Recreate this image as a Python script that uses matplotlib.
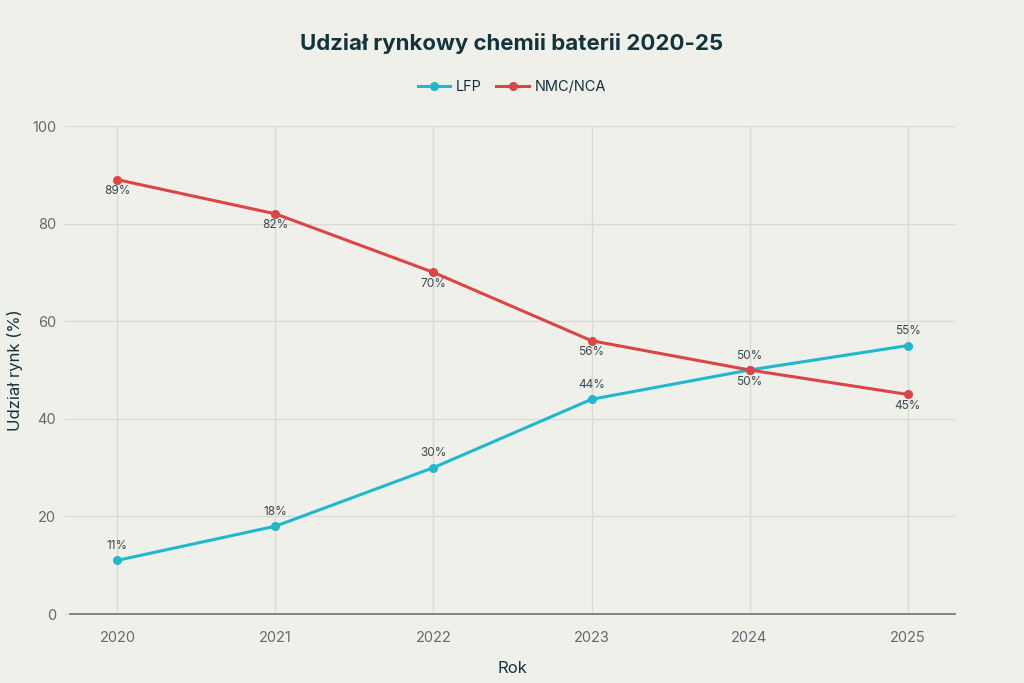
import matplotlib
matplotlib.use("Agg")
import matplotlib.pyplot as plt

plt.rcParams["font.family"] = ["Inter", "DejaVu Sans"]

# Data
years = [2020, 2021, 2022, 2023, 2024, 2025]
lfp = [11, 18, 30, 44, 50, 55]
nmc = [89, 82, 70, 56, 50, 45]
yticks = [0, 20, 40, 60, 80, 100]

bg = "#F0F0EB"
teal = "#1FB8CD"
red = "#DB4545"
dark = "#13343B"
grey = "#5F6B70"

fig = plt.figure(figsize=(10.24, 6.83), dpi=100, facecolor=bg)
ax = fig.add_axes([0.0684, 0.101, 0.8642, 0.7145], facecolor=bg)

ax.plot(years, lfp, color=teal, lw=2.2, marker="o", ms=5.5, label="LFP", zorder=3)
ax.plot(years, nmc, color=red, lw=2.2, marker="o", ms=5.5, label="NMC/NCA", zorder=3)

for x, y in zip(years, lfp):
    ax.annotate(f"{y}%", (x, y), xytext=(0, 6), textcoords="offset points",
                ha="center", va="bottom", fontsize=8.5, color="#3A4A50")
for x, y in zip(years, nmc):
    ax.annotate(f"{y}%", (x, y), xytext=(0, -4), textcoords="offset points",
                ha="center", va="top", fontsize=8.5, color="#3A4A50")

ax.set_xlim(2019.70, 2025.30)
ax.set_ylim(0, 100)
ax.set_xticks(years)
ax.set_yticks(yticks)
ax.grid(True, color="#D9DAD5", lw=1)
ax.set_axisbelow(True)
for s in ["top", "right", "left"]:
    ax.spines[s].set_visible(False)
ax.spines["bottom"].set_color("#6E7173")
ax.spines["bottom"].set_linewidth(1.2)
ax.tick_params(axis="x", length=0, pad=12, labelsize=10.5, labelcolor=grey)
ax.tick_params(axis="y", length=4, color="#D9DAD5", pad=6, labelsize=10.5, labelcolor=grey)

ax.set_xlabel("Rok", fontsize=12, color=dark)
ax.set_ylabel("Udział rynk (%)", fontsize=12, color=dark)
ax.xaxis.set_label_coords(0.5, -0.097)
ax.yaxis.set_label_coords(-0.053, 0.5)

fig.text(0.5, 0.937, "Udział rynkowy chemii baterii 2020-25", ha="center", va="center",
         fontsize=16, fontweight="bold", color=dark)
fig.legend(loc="center", bbox_to_anchor=(0.5, 0.872), ncol=2, frameon=False,
           fontsize=10.5, labelcolor=dark, handlelength=2.2, columnspacing=1.0,
           handletextpad=0.4)

fig.savefig("out.png", dpi=100, facecolor=bg)
